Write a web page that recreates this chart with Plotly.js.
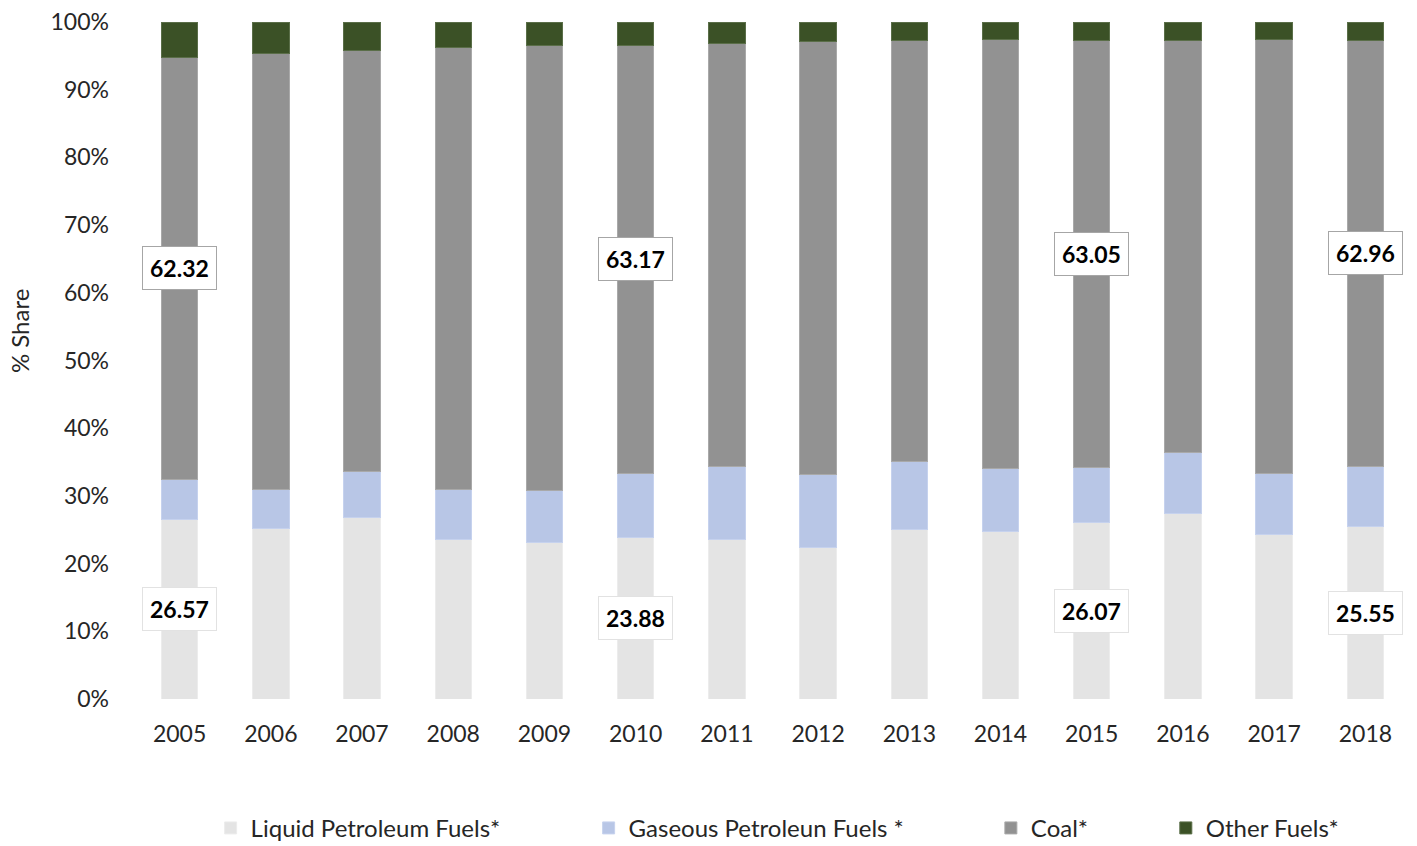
<!DOCTYPE html>
<html>
<head>
<meta charset="utf-8">
<script src="https://cdn.plot.ly/plotly-3.0.1.min.js"></script>
<style>
  html, body { margin: 0; padding: 0; background: #fff; }
  #chart { width: 1417px; height: 846px; }
</style>
</head>
<body>
<div id="chart"></div>
<script>
// Fuel mix shares (%) by year
const years = ['2005','2006','2007','2008','2009','2010','2011','2012','2013','2014','2015','2016','2017','2018'];
const liquid = [26.57, 25.15, 26.80, 23.52, 23.08, 23.88, 23.52, 22.45, 25.04, 24.75, 26.07, 27.46, 24.36, 25.55];
const gaseous = [5.91, 5.85, 6.80, 7.42, 7.72, 9.48, 10.82, 10.71, 10.09, 9.25, 8.15, 9.00, 9.00, 8.79];
const coal = [62.32, 64.30, 62.24, 65.30, 65.73, 63.17, 62.44, 63.96, 62.09, 63.42, 63.05, 60.86, 64.01, 62.96];
const other = [5.20, 4.70, 4.16, 3.76, 3.47, 3.47, 3.22, 2.88, 2.78, 2.58, 2.73, 2.68, 2.63, 2.70];

const seriesNames = ['Liquid Petroleum Fuels*', 'Gaseous Petroleun Fuels *', 'Coal*', 'Other Fuels*'];
// Years whose liquid and coal values are labelled
const labelledYears = ['2005', '2010', '2015', '2018'];

const colors = ['#e4e4e4', '#b8c6e6', '#929292', '#3b5126'];
const edgeColors = ['#ececec', '#c6d2ee', '#a9a9a9', '#5a6e48'];
const seriesData = [liquid, gaseous, coal, other];
const legendIds = ['legend', 'legend2', 'legend3', 'legend4'];

const traces = seriesData.map((vals, i) => ({
  type: 'bar',
  name: seriesNames[i],
  x: years,
  y: vals,
  marker: { color: colors[i], line: { color: edgeColors[i], width: 1 } },
  legend: legendIds[i],
  hoverinfo: 'x+y+name'
}));

// Value labels placed at the middle of the liquid and coal segments
// (category axis: annotation x is the category's serial index)
const labelFont = { family: 'Lato, sans-serif', size: 23, color: '#000', weight: 'bold' };
const annotations = [];
labelledYears.forEach(yr => {
  const k = years.indexOf(yr);
  const liqMid = liquid[k] / 2;
  const coalMid = liquid[k] + gaseous[k] + coal[k] / 2;
  annotations.push({
    x: k, y: liqMid, xref: 'x', yref: 'y', showarrow: false,
    text: liquid[k].toFixed(2), font: labelFont,
    bgcolor: '#ffffff', bordercolor: '#e2e2e2', borderwidth: 1, borderpad: 7
  });
  annotations.push({
    x: k, y: coalMid, xref: 'x', yref: 'y', showarrow: false,
    text: coal[k].toFixed(2), font: labelFont,
    bgcolor: '#ffffff', bordercolor: '#a6a6a6', borderwidth: 1, borderpad: 7
  });
});

// Vertical axis caption
annotations.push({
  xref: 'paper', yref: 'paper', x: -0.0895, y: 0.543,
  xanchor: 'center', yanchor: 'middle', showarrow: false,
  text: '% Share', textangle: -90,
  font: { family: 'Lato, sans-serif', size: 24, color: '#262626' }
});

const legendBase = {
  orientation: 'h', yanchor: 'middle', y: -0.191, xanchor: 'left',
  bgcolor: 'rgba(0,0,0,0)',
  font: { family: 'Lato, sans-serif', size: 24, color: '#262626' }
};

const tickFont = { family: 'Lato, sans-serif', size: 23, color: '#262626' };

const layout = {
  width: 1417, height: 846,
  margin: { l: 134, r: 6, t: 21.5, b: 146.5, autoexpand: false },
  paper_bgcolor: '#ffffff', plot_bgcolor: '#ffffff',
  barmode: 'stack',
  bargap: 0.6,
  font: { family: 'Lato, sans-serif', size: 23, color: '#262626' },
  xaxis: {
    type: 'category',
    range: [-0.5, years.length - 0.5],
    showgrid: false, zeroline: false, showline: false,
    ticks: '', ticklabelstandoff: 19,
    tickfont: tickFont
  },
  yaxis: {
    range: [0, 100],
    tickmode: 'linear', tick0: 0, dtick: 10, ticksuffix: '%',
    showgrid: false, zeroline: false, showline: false,
    ticks: '', ticklabelstandoff: 24,
    tickfont: tickFont
  },
  legend: Object.assign({}, legendBase, { x: 0.060 }),
  legend2: Object.assign({}, legendBase, { x: 0.356 }),
  legend3: Object.assign({}, legendBase, { x: 0.671 }),
  legend4: Object.assign({}, legendBase, { x: 0.808 }),
  annotations: annotations,
  showlegend: true
};

Plotly.newPlot('chart', traces, layout, { displayModeBar: false, staticPlot: true });
</script>
</body>
</html>
